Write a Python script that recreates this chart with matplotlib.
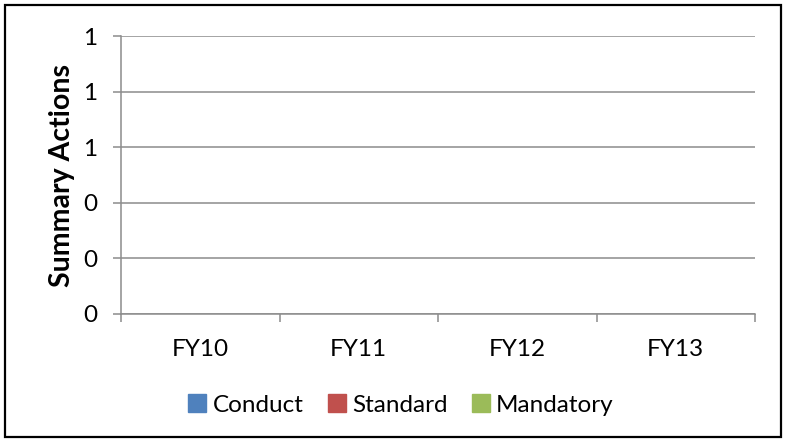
import matplotlib
matplotlib.use("Agg")
import matplotlib.pyplot as plt
import numpy as np
from matplotlib.patches import Rectangle
from matplotlib.ticker import FormatStrFormatter, FixedLocator

categories = ["FY10", "FY11", "FY12", "FY13"]
series_names = ["Conduct", "Standard", "Mandatory"]
conduct = [0, 0, 0, 0]
standard = [0, 0, 0, 0]
mandatory = [0, 0, 0, 0]
y_ticks = [0, 0.2, 0.4, 0.6, 0.8, 1.0]
colors = ["#4F81BD", "#C0504D", "#9BBB59"]

plt.rcParams['font.family'] = ['Lato', 'DejaVu Sans']

fig = plt.figure(figsize=(7.85, 4.40), dpi=100)
ax = fig.add_axes([121/785, 1-314/440, (755-121)/785, (314-36)/440])

x = np.arange(len(categories))
w = 0.22
for i, (vals, name) in enumerate(zip([conduct, standard, mandatory], series_names)):
    ax.bar(x + (i - 1) * w, vals, width=w, color=colors[i], label=name)

ax.set_xlim(-0.5, len(categories) - 0.5)
ax.set_ylim(0, 1.0)
ax.set_yticks(y_ticks)
ax.yaxis.set_major_formatter(FormatStrFormatter('%.0f'))
ax.set_xticks(x)
ax.set_xticklabels(categories)
ax.xaxis.set_minor_locator(FixedLocator(np.arange(-0.5, len(categories), 1.0)))

grid_c = "#8C8C8C"
ax.grid(axis='y', color=grid_c, linewidth=1.1)
ax.set_axisbelow(True)
for s in ['top', 'right']:
    ax.spines[s].set_visible(False)
for s in ['left', 'bottom']:
    ax.spines[s].set_color(grid_c)
    ax.spines[s].set_linewidth(1.1)

ax.tick_params(axis='y', which='major', length=6, color=grid_c, width=1.1, labelsize=17.5, pad=11)
ax.tick_params(axis='x', which='major', length=0, labelsize=17.5, pad=18)
ax.tick_params(axis='x', which='minor', length=6, color=grid_c, width=1.1)

ax.set_ylabel("Summary Actions", fontsize=20.5, fontweight='bold', labelpad=6)

handles = [Rectangle((0, 0), 1, 1, color=c) for c in colors]
fig.legend(handles, series_names, loc='center', bbox_to_anchor=(401/785, 1-405/440),
           ncol=3, frameon=False, fontsize=17.5, handlelength=0.75, handleheight=0.75,
           handletextpad=0.25, columnspacing=1.0)

border = Rectangle((5/785, 1-437/440), (781-5)/785, (437-5)/440, transform=fig.transFigure,
                   fill=False, edgecolor='black', linewidth=1.6)
fig.patches.append(border)

fig.savefig("out.png", dpi=100, facecolor='white')
